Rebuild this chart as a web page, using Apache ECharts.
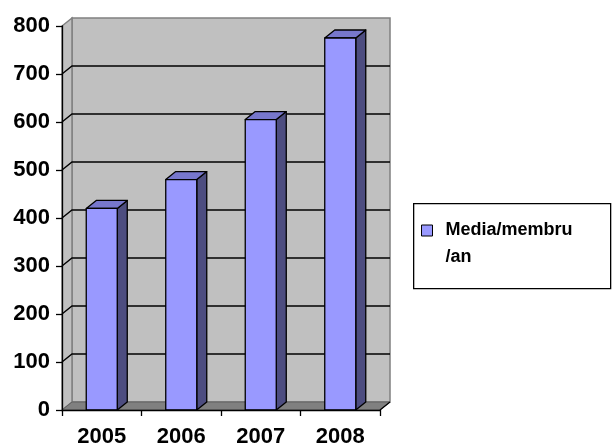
<!DOCTYPE html>
<html>
<head>
<meta charset="utf-8">
<script src="https://cdn.jsdelivr.net/npm/echarts@6/dist/echarts.min.js"></script>
<style>html,body{margin:0;padding:0;background:#fff;}#c{width:613px;height:447px;}</style>
</head>
<body>
<div id="c"></div>
<script>
const categories = ['2005', '2006', '2007', '2008'];
const values = [420, 480, 605, 775];
const seriesName = 'Media/membru/an';
const yMin = 0, yMax = 800, yStep = 100;

const DX = 10, DY = -8;
const FONT = '"Liberation Sans", Arial, sans-serif';

function renderWalls(params, api) {
  const cs = params.coordSys;
  const x0 = cs.x, x1 = cs.x + cs.width, yT = cs.y, yB = cs.y + cs.height;
  const children = [];
  children.push({ type: 'polygon', shape: { points: [[x0 + DX, yT + DY], [x1 + DX, yT + DY], [x1 + DX, yB + DY], [x0 + DX, yB + DY]] },
    style: { fill: '#C0C0C0', stroke: '#808080', lineWidth: 1.5 } });
  children.push({ type: 'polygon', shape: { points: [[x0, yB], [x0, yT], [x0 + DX, yT + DY], [x0 + DX, yB + DY]] },
    style: { fill: '#C0C0C0', stroke: '#808080', lineWidth: 1.5 } });
  children.push({ type: 'polygon', shape: { points: [[x0, yB], [x1, yB], [x1 + DX, yB + DY], [x0 + DX, yB + DY]] },
    style: { fill: '#808080', stroke: '#606060', lineWidth: 1 } });
  children.push({ type: 'line', shape: { x1: x1, y1: yB, x2: x1 + DX, y2: yB + DY }, style: { stroke: '#000', lineWidth: 1.3 } });
  for (let v = yMin + yStep; v < yMax; v += yStep) {
    const y = api.coord([0, v])[1];
    children.push({ type: 'polyline', shape: { points: [[x0, y], [x0 + DX, y + DY], [x1 + DX, y + DY]] },
      style: { stroke: '#000', lineWidth: 1.4, fill: null } });
  }
  return { type: 'group', children: children };
}

function renderBar(params, api) {
  const p = api.coord([api.value(0), api.value(1)]);
  const base = api.coord([api.value(0), 0]);
  const bw = api.size([1, 0])[0] * 0.39;
  const xl = p[0] - bw / 2, xr = p[0] + bw / 2, yt = p[1], yb = base[1];
  const st = { stroke: '#000', lineWidth: 1.3, lineJoin: 'round' };
  return { type: 'group', children: [
    { type: 'polygon', shape: { points: [[xr, yb], [xr, yt], [xr + DX, yt + DY], [xr + DX, yb + DY]] },
      style: Object.assign({ fill: '#4D4D80' }, st) },
    { type: 'polygon', shape: { points: [[xl, yt], [xr, yt], [xr + DX, yt + DY], [xl + DX, yt + DY]] },
      style: Object.assign({ fill: '#7777CC' }, st) },
    { type: 'rect', shape: { x: xl, y: yt, width: bw, height: yb - yt },
      style: Object.assign({ fill: '#9999FF' }, st) }
  ] };
}

const chart = echarts.init(document.getElementById('c'));
chart.setOption({
  animation: false,
  backgroundColor: '#fff',
  grid: { left: 62, top: 26, width: 318, height: 384, outerBoundsMode: 'none', containLabel: false },
  xAxis: {
    type: 'category', data: categories, z: 10,
    axisLine: { lineStyle: { color: '#000', width: 1.3 } },
    axisTick: { show: true, length: 6, lineStyle: { color: '#000', width: 1.3 } },
    axisLabel: { color: '#000', fontSize: 22, fontWeight: 'bold', fontFamily: FONT, margin: 16 },
    splitLine: { show: false }
  },
  yAxis: {
    type: 'value', min: yMin, max: yMax, interval: yStep, z: 10,
    axisLine: { show: true, lineStyle: { color: '#000', width: 1.3 } },
    axisTick: { show: true, length: 6, lineStyle: { color: '#000', width: 1.3 } },
    axisLabel: { color: '#000', fontSize: 22, fontWeight: 'bold', fontFamily: FONT, margin: 12 },
    splitLine: { show: false }
  },
  graphic: [{
    type: 'rect', left: 413, top: 203, z: -1,
    shape: { width: 197, height: 85 },
    style: { fill: '#fff', stroke: '#000', lineWidth: 1.3 }
  }],
  legend: {
    left: 421, top: 190, padding: 0, orient: 'vertical',
    itemWidth: 11, itemHeight: 11, icon: 'rect',
    itemStyle: { borderColor: '#000', borderWidth: 1 },
    formatter: function (n) { return ' \nMedia/membru\n/an'; },
    textStyle: { color: '#000', fontSize: 18, fontWeight: 'bold', fontFamily: FONT, lineHeight: 27, padding: [0, 0, 0, 8] },
    data: [seriesName]
  },
  series: [
    { type: 'custom', name: '_walls', z: 1, renderItem: renderWalls, data: [[0, 0]], silent: true, tooltip: { show: false } },
    { type: 'custom', name: seriesName, z: 3, renderItem: renderBar, itemStyle: { color: '#9999FF' },
      data: values.map(function (v, i) { return [i, v]; }) }
  ]
});
</script>
</body>
</html>
